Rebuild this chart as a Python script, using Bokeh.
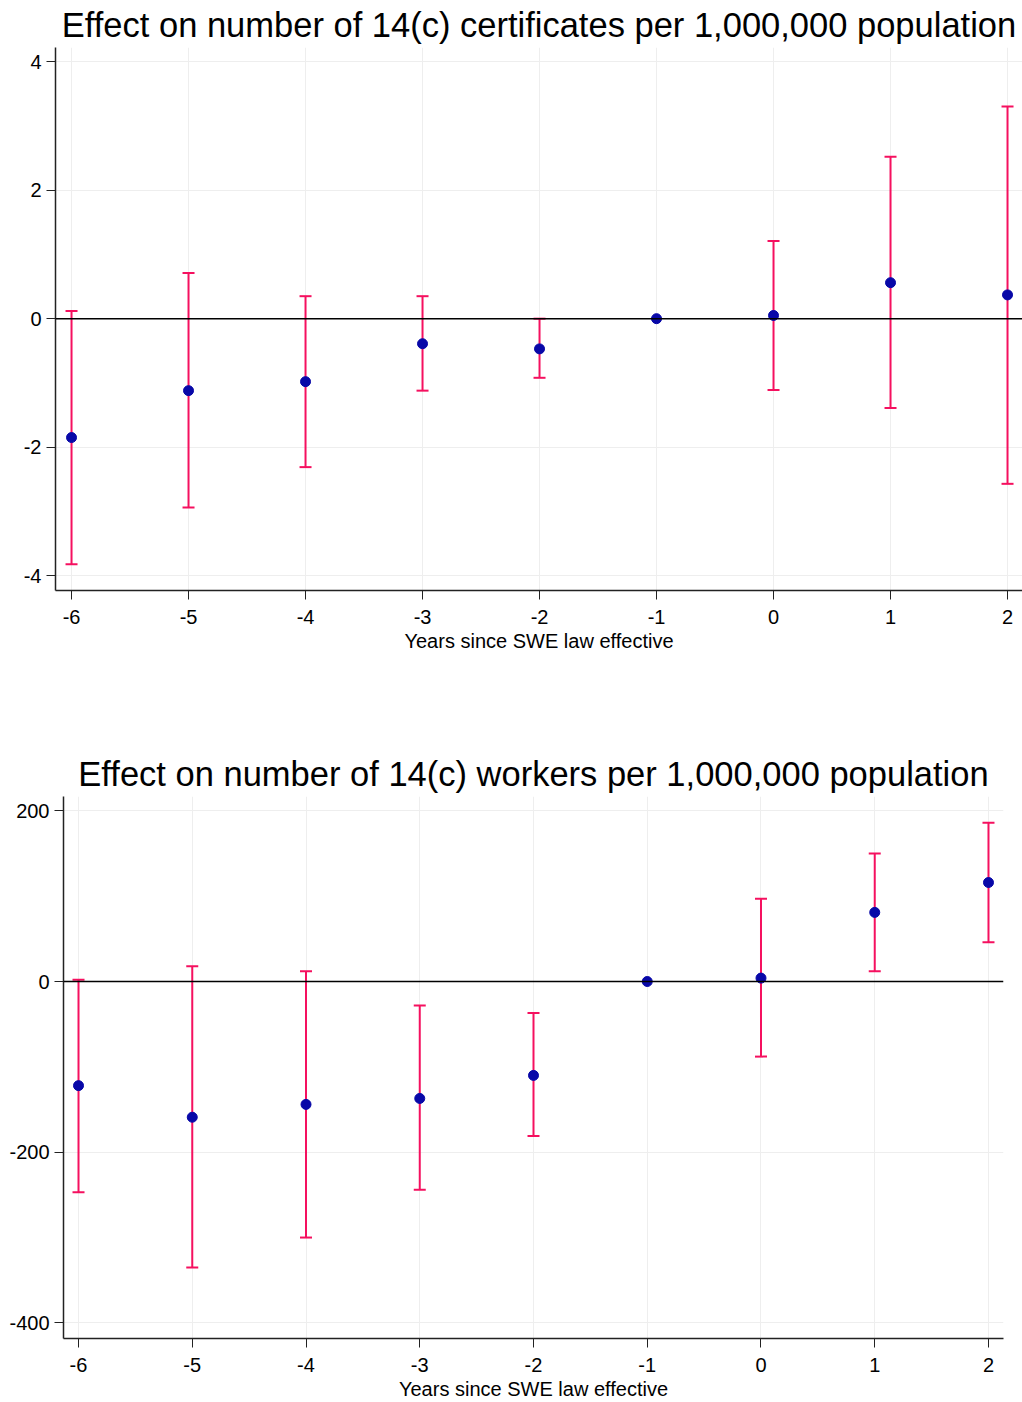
from bokeh.plotting import figure
from bokeh.models import ColumnDataSource, Whisker, TeeHead, Span, FixedTicker, Range1d
from bokeh.embed import file_html
from bokeh.resources import INLINE

# ---- data ----
years = [-6, -5, -4, -3, -2, -1, 0, 1, 2]

cert_est = [-1.85, -1.12, -0.98, -0.39, -0.47, 0.0, 0.05, 0.56, 0.37]
cert_lo = [-3.82, -2.94, -2.31, -1.12, -0.92, 0.0, -1.11, -1.39, -2.57]
cert_hi = [0.12, 0.71, 0.35, 0.35, 0.0, 0.0, 1.21, 2.52, 3.30]

work_est = [-122, -159, -144, -137, -110, 0, 4, 81, 116]
work_lo = [-247, -335, -300, -244, -181, 0, -88, 12, 46]
work_hi = [2, 18, 12, -28, -37, 0, 97, 150, 186]

cert_yticks = [-4, -2, 0, 2, 4]
work_yticks = [-400, -200, 0, 200]

TITLE1 = "Effect on number of 14(c) certificates per 1,000,000 population"
TITLE2 = "Effect on number of 14(c) workers per 1,000,000 population"
XLABEL = "Years since SWE law effective"

FONT = "Liberation Sans"
PT_COLOR = "#0808a8"
BAR_COLOR = "#f5105f"


def make_panel(title, est, lo, hi, yticks, xr, yr, height, b_left, b_right,
               b_top, b_bottom):
    p = figure(width=1022, height=height, x_range=Range1d(*xr),
               y_range=Range1d(*yr), output_backend="svg",
               toolbar_location=None, title=title,
               min_border_left=b_left, min_border_right=b_right,
               min_border_top=b_top, min_border_bottom=b_bottom)
    p.title.text_font = FONT
    p.title.text_font_size = "34.5px"
    p.title.text_font_style = "normal"
    p.title.text_color = "black"
    p.title.text_line_height = 1.0
    p.title.align = "center"
    p.title.standoff = 7
    p.outline_line_color = None
    p.background_fill_color = "white"
    p.border_fill_color = "white"

    for ax in (p.xaxis[0], p.yaxis[0]):
        ax.major_label_text_font = FONT
        ax.major_label_text_font_size = "20px"
        ax.major_label_text_color = "black"
        ax.axis_line_color = "#222222"
        ax.axis_line_width = 1.5
        ax.major_tick_line_color = "#222222"
        ax.major_tick_out = 9
        ax.major_tick_in = 0
        ax.minor_tick_line_color = None
    p.xaxis[0].ticker = FixedTicker(ticks=years)
    p.yaxis[0].ticker = FixedTicker(ticks=yticks)
    p.xaxis[0].major_label_overrides = {t: str(t) for t in years}
    p.yaxis[0].major_label_overrides = {t: str(t) for t in yticks}
    p.xaxis[0].major_label_standoff = 10
    p.yaxis[0].major_label_standoff = 5
    p.xaxis[0].axis_label = XLABEL
    p.xaxis[0].axis_label_text_font = FONT
    p.xaxis[0].axis_label_text_font_size = "20px"
    p.xaxis[0].axis_label_text_font_style = "normal"
    p.xaxis[0].axis_label_text_color = "black"
    p.xaxis[0].axis_label_standoff = 3

    p.xgrid.grid_line_color = "#eeeeee"
    p.ygrid.grid_line_color = "#eeeeee"
    p.xgrid.ticker = FixedTicker(ticks=years)
    p.ygrid.ticker = FixedTicker(ticks=yticks)

    p.add_layout(Span(location=0, dimension="width", line_color="black",
                      line_width=1.5))

    p.scatter(x=years, y=est, size=10, fill_color=PT_COLOR,
              line_color=PT_COLOR)

    idx = [i for i in range(len(years)) if hi[i] != lo[i]]
    src = ColumnDataSource(dict(x=[years[i] for i in idx],
                                lower=[lo[i] for i in idx],
                                upper=[hi[i] for i in idx]))
    w = Whisker(base="x", lower="lower", upper="upper", source=src,
                line_color=BAR_COLOR, line_width=2,
                upper_head=TeeHead(size=12, line_color=BAR_COLOR, line_width=2),
                lower_head=TeeHead(size=12, line_color=BAR_COLOR, line_width=2))
    p.add_layout(w)
    return p


p1 = make_panel(TITLE1, cert_est, cert_lo, cert_hi, cert_yticks,
                (-6.137, 2.128), (-4.23, 4.22), 700, 55, 0, 47, 110)
p2 = make_panel(TITLE2, work_est, work_lo, work_hi, work_yticks,
                (-6.132, 2.132), (-418.3, 216.8), 702, 63, 19, 96, 64)

open("out.html", "w").write(file_html([p1, p2], INLINE))
